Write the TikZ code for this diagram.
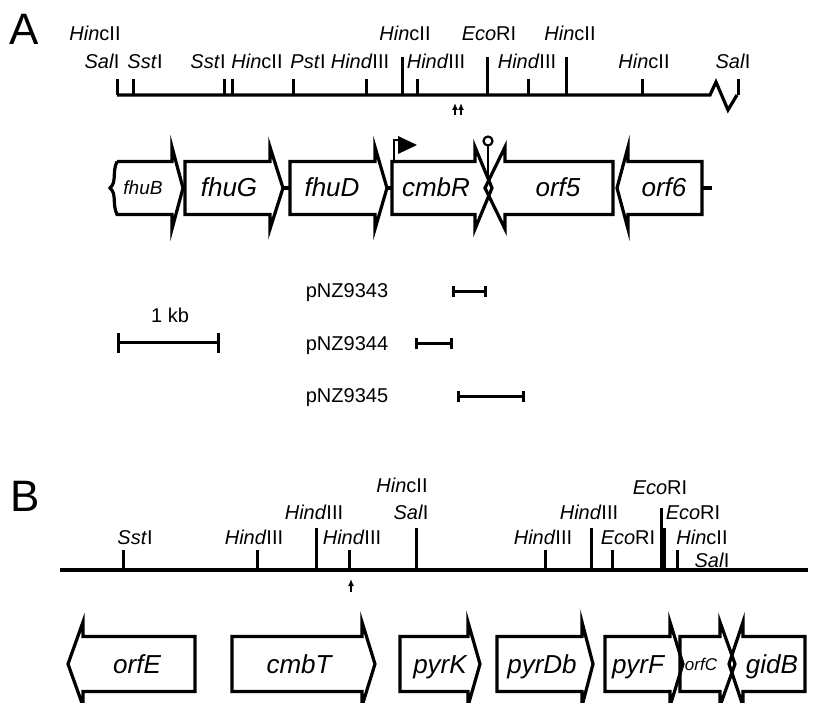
\documentclass[tikz,border=0pt]{standalone}
\usepackage{fontspec}
\setmainfont{Liberation Sans}
\usetikzlibrary{arrows.meta}

% gene arrows: left end, barb x, tip x, middle y (half heights in \gh and \gH)
\newcommand{\generight}[4]{\draw[gene] (#1,#4-\gh) -- (#2,#4-\gh) -- (#2,#4-\gH) -- (#3,#4) -- (#2,#4+\gH) -- (#2,#4+\gh) -- (#1,#4+\gh) -- cycle;}
\newcommand{\geneleft}[4]{\draw[gene] (#3,#4-\gh) -- (#2,#4-\gh) -- (#2,#4-\gH) -- (#1,#4) -- (#2,#4+\gH) -- (#2,#4+\gh) -- (#3,#4+\gh) -- cycle;}

\begin{document}
\begin{tikzpicture}[x=1pt,y=-1pt,
  site/.style={font=\fontsize{20}{22}\selectfont, anchor=base, inner sep=0pt},
  genename/.style={font=\fontsize{26}{28}\selectfont\itshape, anchor=base, inner sep=0pt},
  panel/.style={font=\fontsize{44}{44}\selectfont, anchor=base, inner sep=0pt},
  map/.style={line width=3.2pt},
  cut/.style={line width=3pt},
  gene/.style={line width=3.2pt},
  clone/.style={line width=3pt, {Bar[width=11pt]}-{Bar[width=11pt]}},
  cutpoint/.style={line width=1.6pt, -{Latex[length=7pt,width=6pt]}}]
\useasboundingbox (0,0) rectangle (823,703);

% ---------- Panel A ----------
\node[panel] (labA) at (24,45) {A};

% restriction map
\draw[map] (117,95) -- (710,95) -- (716,82) -- (728,110) -- (737,95);
\foreach \x in {117,133,224,232,293,366,417,528,642,738}
  \draw[cut] (\x,95) -- (\x,79);
\foreach \x in {402,487,566}
  \draw[cut] (\x,95) -- (\x,57);

\node[site] (a1) at (95,41) {\textit{Hin}cII};
\node[site] (a2) at (405,41) {\textit{Hin}cII};
\node[site] (a3) at (489,41) {\textit{Eco}RI};
\node[site] (a4) at (570,41) {\textit{Hin}cII};
\node[site] (a5) at (102,69) {\textit{Sal}I};
\node[site] (a6) at (145,69) {\textit{Sst}I};
\node[site] (a7) at (208,69) {\textit{Sst}I};
\node[site] (a8) at (257,69) {\textit{Hin}cII};
\node[site] (a9) at (308,69) {\textit{Pst}I};
\node[site] (a10) at (360,69) {\textit{Hind}III};
\node[site] (a11) at (436,69) {\textit{Hind}III};
\node[site] (a12) at (527,69) {\textit{Hind}III};
\node[site] (a13) at (644,69) {\textit{Hin}cII};
\node[site] (a14) at (733,69) {\textit{Sal}I};

% insertion points
\draw[cutpoint] (455,115) -- (455,103);
\draw[cutpoint] (461,115) -- (461,103);

% genes
\def\gh{26.5}\def\gH{41}
\draw[gene] (117,161.5) -- (172,161.5) -- (172,147) -- (183,188) -- (172,229) -- (172,214.5) -- (117,214.5)
  .. controls (112,204) and (117,194) .. (110,188) .. controls (117,182) and (112,172) .. (117,161.5);
\generight{185}{270}{283}{188}
\draw[gene] (283,188) -- (290,188);
\generight{290}{375}{387}{188}
\draw[gene] (387,188) -- (392,188);
\generight{392}{475}{492}{188}
\geneleft{485}{505}{613}{188}
\geneleft{617}{628}{702}{188}
\draw[gene] (702,188) -- (712,188);

% promoter and terminator
\draw[line width=2.2pt] (394,161.5) -- (394,140) -- (400,140);
\fill (398,136) -- (417,145) -- (398,154) -- cycle;
\draw[line width=2.2pt] (488,141) circle (4.5);
\draw[line width=2.2pt] (488,145.5) -- (488,176);

\node[font=\fontsize{19}{21}\selectfont\itshape, anchor=base, inner sep=0pt] (fhuB) at (143,195) {fhuB};
\node[genename] (fhuG) at (229,197) {fhuG};
\node[genename] (fhuD) at (332,197) {fhuD};
\node[genename] (cmbR) at (436,197) {cmbR};
\node[genename] (orf5) at (558,197) {orf5};
\node[genename] (orf6) at (664,197) {orf6};

% scale bar and clones
\node[site] (kb) at (170,323) {1 kb};
\draw[line width=3pt, {Bar[width=20pt]}-{Bar[width=20pt]}] (117,343) -- (220,343);
\node[site] (p43) at (347,298) {pNZ9343};
\draw[clone] (452,292) -- (487,292);
\node[site] (p44) at (347,351) {pNZ9344};
\draw[clone] (415,344) -- (453,344);
\node[site] (p45) at (347,403) {pNZ9345};
\draw[clone] (457,397) -- (525,397);

% ---------- Panel B ----------
\node[panel] (labB) at (25,512) {B};

% restriction map
\draw[map] (60,570) -- (808,570);
\foreach \x in {123,257,349,545,612,677}
  \draw[cut] (\x,570) -- (\x,550);
\foreach \x in {316,416,591,664}
  \draw[cut] (\x,570) -- (\x,528);
\draw[cut] (661,570) -- (661,508);

\node[site] (b1) at (135,544) {\textit{Sst}I};
\node[site] (b2) at (254,544) {\textit{Hind}III};
\node[site] (b3) at (314,519) {\textit{Hind}III};
\node[site] (b4) at (352,544) {\textit{Hind}III};
\node[site] (b5) at (402,493) {\textit{Hin}cII};
\node[site] (b6) at (411,519) {\textit{Sal}I};
\node[site] (b7) at (543,545) {\textit{Hind}III};
\node[site] (b8) at (589,520) {\textit{Hind}III};
\node[site] (b9) at (628,545) {\textit{Eco}RI};
\node[site] (b10) at (660,495) {\textit{Eco}RI};
\node[site] (b11) at (693,520) {\textit{Eco}RI};
\node[site] (b12) at (702,545) {\textit{Hin}cII};
\node[site] (b13) at (712,567) {\textit{Sal}I};

% insertion point
\draw[cutpoint] (351,592) -- (351,579);

% genes
\def\gh{27.5}\def\gH{42}
\geneleft{68}{83}{195}{664}
\generight{232}{362}{375}{664}
\generight{400}{468}{480}{664}
\generight{497}{582}{593}{664}
\generight{605}{670}{683}{664}
\generight{680}{720}{735}{664}
\geneleft{729}{743}{805}{664}

\node[genename] (orfE) at (137,673) {orfE};
\node[genename] (cmbT) at (299,673) {cmbT};
\node[genename] (pyrK) at (440,673) {pyrK};
\node[genename] (pyrDb) at (542,673) {pyrDb};
\node[genename] (pyrF) at (638,673) {pyrF};
\node[font=\fontsize{17}{19}\selectfont\itshape, anchor=base, inner sep=0pt] (orfC) at (701,670) {orfC};
\node[genename] (gidB) at (772,673) {gidB};
\end{tikzpicture}
\end{document}
